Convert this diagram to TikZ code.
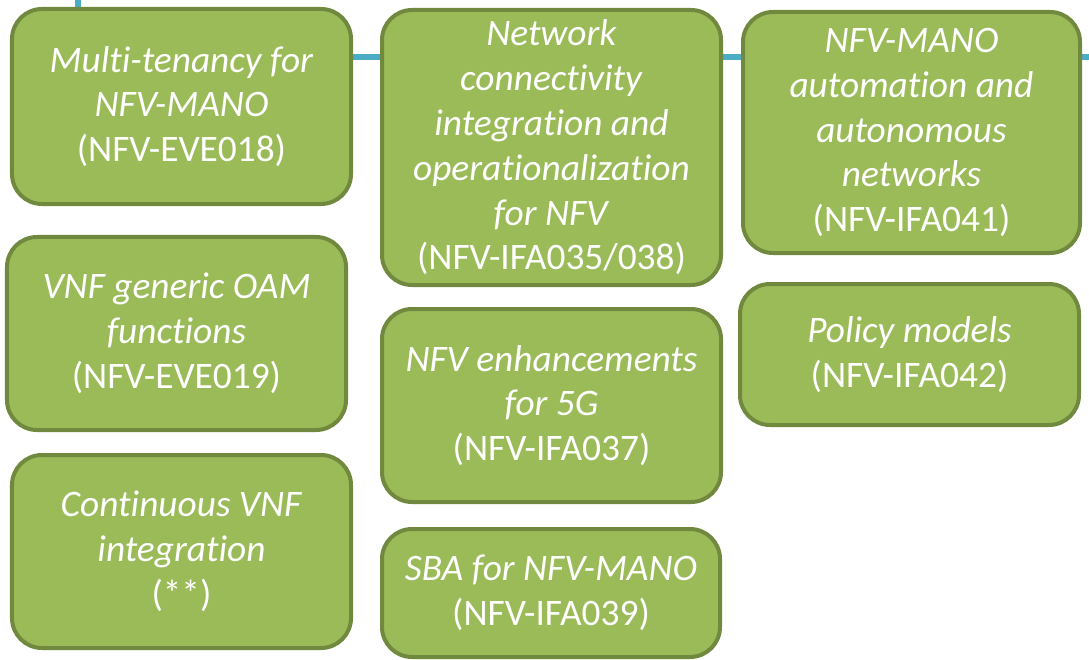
\documentclass[tikz,border=0pt]{standalone}
\usepackage{fontspec}
\setmainfont[Ligatures={NoCommon}]{Carlito}
\usetikzlibrary{backgrounds}
\definecolor{boxgreen}{HTML}{9BBB59}
\definecolor{boxedge}{HTML}{71893F}
\definecolor{linkblue}{HTML}{4BACC6}
\begin{document}
\begin{tikzpicture}[x=1bp,y=-1bp,
  item/.style={draw=boxedge, fill=boxgreen, line width=4bp, rounded corners=30bp,
    text=white, align=center, inner sep=0pt, minimum width=339bp,
    font=\fontsize{37.5}{45}\selectfont}]
\useasboundingbox (0,0) rectangle (1089,660);
\node[item, minimum height=195bp] (1) at (181.5,106.5) {\textit{Multi-tenancy for}\\\textit{NFV-MANO}\\(NFV-EVE018)};
\node[item, minimum height=275bp] (2) at (551.5,147.5) {\textit{Network}\\\textit{connectivity}\\\textit{integration and}\\\textit{operationalization}\\\textit{for NFV}\\(NFV-IFA035/038)};
\node[item, minimum height=241bp, minimum width=337bp] (3) at (911.5,132.5) {\textit{NFV-MANO}\\\textit{automation and}\\\textit{autonomous}\\\textit{networks}\\(NFV-IFA041)};
\node[item, minimum height=193bp] (4) at (176.5,333.5) {\textit{VNF generic OAM}\\\textit{functions}\\(NFV-EVE019)};
\node[item, minimum height=193bp] (5) at (551.5,405.5) {\textit{NFV enhancements}\\\textit{for 5G}\\(NFV-IFA037)};
\node[item, minimum height=141bp] (6) at (909.5,354.5) {\textit{Policy models}\\(NFV-IFA042)};
\node[item, minimum height=193bp] (7) at (181.5,551.5) {\textit{Continuous VNF}\\\textit{integration}\\(**)};
\node[item, minimum height=128bp, minimum width=338bp] (8) at (551,593) {\textit{SBA for NFV-MANO}\\(NFV-IFA039)};

\coordinate (top) at (78,0);
\coordinate (right) at (1089,57);
\begin{pgfonlayer}{background}
\path[draw,linkblue,line width=6bp,-] (top) -- (top |- 1.north);
\path[draw,linkblue,line width=6bp,-] (1.east |- right) -- (right);
\end{pgfonlayer}
\end{tikzpicture}
\end{document}
